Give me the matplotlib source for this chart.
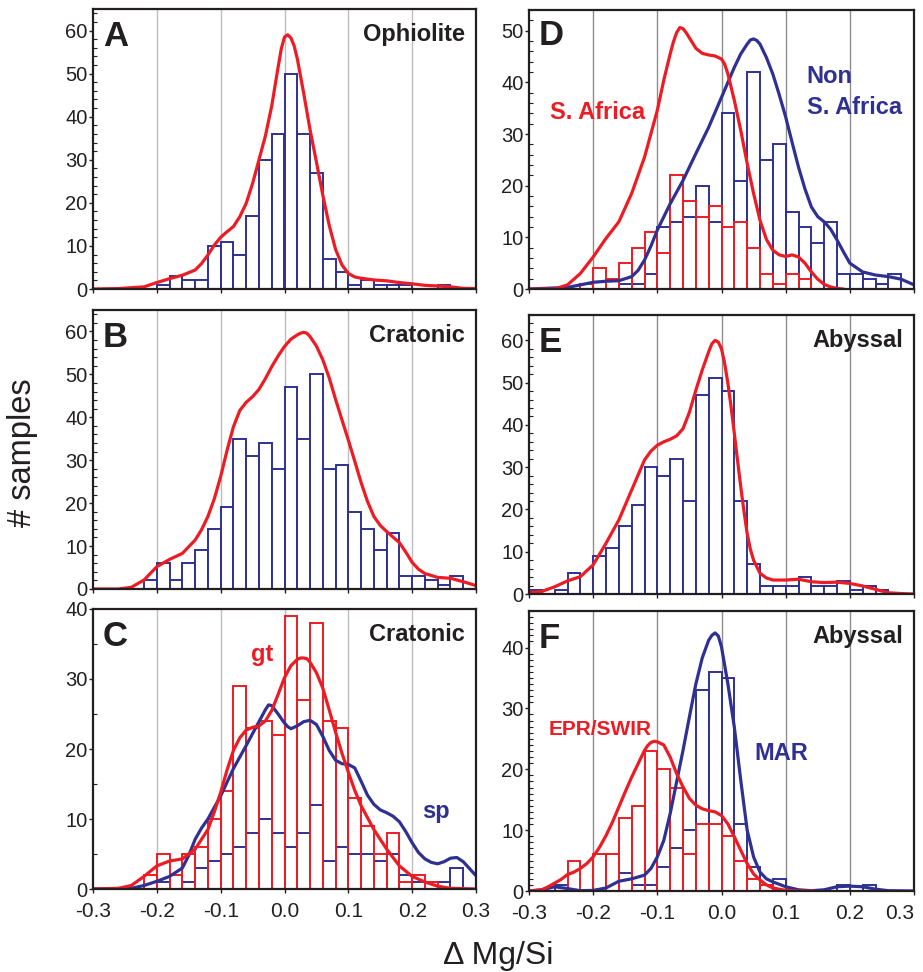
import numpy as np
import matplotlib
matplotlib.use("Agg")
import matplotlib.pyplot as plt
from matplotlib.ticker import MultipleLocator

plt.rcParams['font.family'] = ['Liberation Sans', 'DejaVu Sans']

RED = '#ed1c24'
BLUE = '#2e3192'
INK = '#231f20'
BIN = 0.02

# ---- histogram counts (bin width 0.02, first bin left edge given) ----
a_start = -0.20
a_counts = [1, 3, 2, 2, 10, 11, 8, 17, 30, 36, 50, 36, 27, 7, 4, 1, 2, 1, 1, 1, 0, 0, 1]

b_start = -0.22
b_counts = [2, 6, 2, 6, 9, 14, 19, 35, 31, 34, 28, 47, 35, 50, 28, 29, 18, 14, 9, 13,
            3, 3, 2, 1, 3]

c_start = -0.22
c_gt = [2, 5, 2, 5, 6, 10, 14, 29, 23, 24, 22, 39, 27, 38, 24, 23, 13, 9, 5, 8, 1, 2, 1, 0, 0]
c_sp = [0, 1, 0, 1, 3, 4, 5, 6, 8, 10, 8, 6, 8, 12, 4, 6, 5, 5, 4, 5, 2, 1, 1, 1, 3]

d_start = -0.22
d_safrica = [1, 4, 2, 5, 8, 11, 7, 22, 17, 14, 16, 12, 13, 8, 3, 1, 3, 2, 0, 0, 0, 0, 0, 0, 0]
d_non = [0, 0, 0, 1, 1, 3, 12, 13, 14, 20, 13, 34, 21, 42, 25, 28, 15, 12, 9, 13, 3, 3, 2, 1, 3]

e_start = -0.30
e_counts = [1, 0, 1, 5, 0, 9, 11, 16, 21, 30, 28, 32, 22, 47, 51, 48, 22, 7, 2, 2, 2, 4,
            2, 2, 3, 1, 2, 1]

f_start = -0.26
f_epr = [0, 5, 0, 6, 6, 12, 14, 23, 20, 17, 6, 11, 11, 9, 5, 2, 1, 0, 0, 0, 0, 0, 0, 0, 0]
f_mar = [1, 0, 0, 0, 0, 3, 1, 1, 4, 7, 10, 33, 36, 35, 11, 4, 1, 2, 0, 0, 0, 0, 1, 0, 1]

# ---- density curves ----
a_cx = [-0.30, -0.26, -0.22, -0.20, -0.18, -0.16, -0.14, -0.13, -0.12, -0.11, -0.10, -0.09,
        -0.08, -0.07, -0.06, -0.05, -0.04, -0.03, -0.02, -0.01, -0.005, 0.00, 0.005, 0.01,
        0.015, 0.02, 0.03, 0.04, 0.05, 0.06, 0.07, 0.08, 0.09, 0.10, 0.11, 0.12, 0.14,
        0.16, 0.18, 0.20, 0.22, 0.24, 0.26, 0.28, 0.30]
a_cy = [0, 0.1, 0.5, 1.5, 2.4, 3.2, 4.4, 5.9, 7.9, 10.2, 12, 13.3,
        14.5, 16.8, 19.9, 24.5, 30, 35.5, 42.5, 51.5, 55.8, 58.5, 59, 58.3,
        56.5, 53.5, 45.5, 37, 29.5, 21.8, 14.8, 9.2, 5.6, 3.6, 2.8, 2.5, 2.1,
        1.9, 1.5, 1.2, 0.85, 0.7, 0.5, 0.15, 0.1]

b_cx = [-0.30, -0.26, -0.24, -0.22, -0.20, -0.18, -0.16, -0.14, -0.13, -0.12, -0.11, -0.10,
        -0.09, -0.08, -0.07, -0.06, -0.05, -0.04, -0.03, -0.02, -0.01, 0.00, 0.01, 0.02,
        0.025, 0.03, 0.035, 0.04, 0.05, 0.06, 0.07, 0.08, 0.09, 0.10, 0.11, 0.12, 0.13,
        0.14, 0.15, 0.16, 0.17, 0.18, 0.19, 0.20, 0.21, 0.22, 0.24, 0.26, 0.28, 0.30]
b_cy = [0, 0, 0.4, 2.1, 5.2, 6.9, 8.3, 11.4, 13.8, 16.9, 21, 26.2,
        32.3, 37.8, 41.6, 43.5, 44.8, 46.5, 49, 51.8, 54.3, 56.5, 58.2, 59.2,
        59.6, 59.8, 59.6, 58.8, 56.6, 53.4, 49.2, 44.2, 39.4, 34.7, 29.8, 24.8, 20.4,
        16.9, 14.8, 13.4, 12.1, 10.8, 8.6, 6.2, 4.6, 3.6, 2.7, 2.5, 1.7, 0.8]

c_gt_x = [-0.30, -0.26, -0.24, -0.22, -0.20, -0.18, -0.16, -0.14, -0.12, -0.11, -0.10, -0.09,
          -0.08, -0.07, -0.06, -0.05, -0.04, -0.03, -0.02, -0.01, 0.00, 0.01, 0.02, 0.025,
          0.03, 0.035, 0.04, 0.05, 0.06, 0.07, 0.08, 0.09, 0.10, 0.11, 0.12, 0.14, 0.16,
          0.18, 0.20, 0.22, 0.24, 0.26, 0.30]
c_gt_y = [0, 0.1, 0.5, 1.8, 3.3, 4.0, 4.3, 5.7, 8.5, 11, 13.8, 17,
          19.8, 21.6, 22.7, 23.1, 23.3, 24, 25.5, 27.8, 30.2, 31.9, 32.8, 33,
          33, 32.9, 32.4, 30.9, 28.7, 25.6, 22.4, 19.4, 16.7, 14.1, 11.9, 8.5, 5.7,
          3.3, 1.8, 1.0, 0.4, 0.1, 0]
c_sp_x = [-0.30, -0.24, -0.22, -0.20, -0.18, -0.16, -0.15, -0.14, -0.13, -0.12, -0.10, -0.08,
          -0.06, -0.04, -0.03, -0.025, -0.02, -0.01, 0.00, 0.005, 0.01, 0.02, 0.03, 0.04,
          0.05, 0.06, 0.07, 0.08, 0.09, 0.10, 0.11, 0.12, 0.13, 0.14, 0.15, 0.16, 0.17,
          0.18, 0.19, 0.20, 0.21, 0.22, 0.23, 0.24, 0.25, 0.26, 0.27, 0.28, 0.29, 0.30]
c_sp_y = [0, 0.1, 0.5, 1.1, 1.8, 3.0, 4.8, 7.1, 8.7, 10, 13.3, 17.2,
          20.5, 23.9, 25.6, 26.3, 26.2, 25, 23.7, 23.2, 22.9, 23.3, 23.9, 24.1,
          23.5, 21.8, 19.8, 18.4, 17.9, 17.8, 17.3, 15.4, 13.4, 12.1, 11.3, 10.9, 10.4,
          9.6, 8.2, 6.6, 5.2, 4.3, 3.8, 3.6, 3.9, 4.4, 4.5, 3.9, 2.9, 1.9]

d_sa_x = [-0.30, -0.26, -0.24, -0.22, -0.20, -0.18, -0.16, -0.14, -0.12, -0.10, -0.09, -0.08,
          -0.075, -0.07, -0.065, -0.06, -0.055, -0.05, -0.04, -0.03, -0.02, -0.01, 0.00,
          0.005, 0.01, 0.02, 0.03, 0.04, 0.05, 0.06, 0.07, 0.08, 0.09, 0.10, 0.11, 0.12,
          0.13, 0.14, 0.15, 0.16, 0.17, 0.18, 0.19]
d_sa_y = [0, 0, 0.8, 3, 6.2, 9.8, 13, 18.5, 25.5, 34.6, 40.4, 45.5,
          47.8, 49.6, 50.6, 50.4, 49.6, 48.6, 46.6, 45.6, 45.3, 45.1, 44.5,
          43.5, 41.6, 36.5, 30.7, 24.3, 18.5, 13.3, 9.6, 7.5, 6.6, 6.3, 6.6, 6.2,
          5, 3.3, 1.9, 0.9, 0.4, 0.1, 0]
d_non_x = [-0.30, -0.24, -0.22, -0.20, -0.18, -0.16, -0.14, -0.13, -0.12, -0.11, -0.10,
           -0.08, -0.06, -0.04, -0.02, 0.00, 0.02, 0.03, 0.04, 0.045, 0.05, 0.055, 0.06,
           0.07, 0.08, 0.09, 0.10, 0.11, 0.12, 0.13, 0.14, 0.15, 0.16, 0.17, 0.18, 0.19,
           0.20, 0.22, 0.24, 0.26, 0.28, 0.30]
d_non_y = [0, 0.3, 0.8, 1.3, 1.5, 1.6, 2.4, 3.6, 5.6, 8.3, 11.4,
           16.5, 21, 26.2, 31.3, 37.1, 42.9, 45.5, 47.4, 48.2, 48.4, 48.1, 47.4,
           44.8, 41.6, 37.6, 33.3, 28.4, 23.6, 19.4, 15.9, 14, 13, 11.6, 9.5, 7.2,
           5, 3.3, 2.7, 2.4, 1.9, 0.8]

e_cx = [-0.30, -0.28, -0.26, -0.24, -0.22, -0.20, -0.18, -0.16, -0.14, -0.12, -0.11, -0.10,
        -0.09, -0.08, -0.07, -0.06, -0.05, -0.04, -0.03, -0.02, -0.015, -0.01, -0.005,
        0.00, 0.005, 0.01, 0.015, 0.02, 0.025, 0.03, 0.035, 0.04, 0.045, 0.05, 0.06, 0.07,
        0.08, 0.10, 0.12, 0.14, 0.16, 0.18, 0.20, 0.22, 0.24, 0.26, 0.28, 0.30]
e_cy = [0.3, 0.6, 1.7, 3.1, 4.1, 6.9, 12, 17.5, 24.6, 31.7, 33.8, 35.2,
        36, 36.6, 37.4, 39.1, 43, 48.2, 53, 57.3, 59.2, 60, 59.6,
        58, 54.5, 49.8, 44.2, 38, 31.6, 25.4, 19.6, 14.3, 10.6, 8, 4.9, 3.8,
        3.3, 3.3, 3.5, 2.9, 2.7, 2.8, 2.5, 1.9, 1.1, 0.3, 0.1, 0]

f_epr_x = [-0.30, -0.28, -0.27, -0.26, -0.25, -0.24, -0.23, -0.22, -0.21, -0.20, -0.19, -0.18,
           -0.17, -0.16, -0.15, -0.14, -0.13, -0.12, -0.115, -0.11, -0.105, -0.10, -0.09,
           -0.08, -0.07, -0.06, -0.05, -0.04, -0.03, -0.02, -0.01, 0.00, 0.01, 0.02, 0.03,
           0.04, 0.05, 0.06, 0.07, 0.08, 0.10, 0.12, 0.145]
f_epr_y = [0, 0.2, 0.7, 1.3, 1.9, 2.7, 3.1, 3.7, 4.5, 5.6, 7.2, 9.1,
           11.3, 13.8, 16.3, 18.7, 20.9, 23.1, 23.9, 24.4, 24.6, 24.5, 24,
           22, 19.3, 17.1, 15.2, 14.1, 13.5, 13.2, 13, 12.4, 11, 8.9, 6.7,
           4.5, 2.8, 1.8, 1.0, 0.5, 0.1, 0, 0]
f_mar_x = [-0.30, -0.28, -0.26, -0.24, -0.22, -0.20, -0.18, -0.16, -0.14, -0.12, -0.11, -0.10,
           -0.09, -0.08, -0.07, -0.06, -0.05, -0.04, -0.03, -0.02, -0.015, -0.01, -0.005,
           0.00, 0.01, 0.02, 0.03, 0.04, 0.05, 0.06, 0.07, 0.08, 0.10, 0.12, 0.14, 0.16,
           0.18, 0.20, 0.22, 0.24, 0.26, 0.30]
f_mar_y = [0, 0.2, 0.7, 0.4, 0.05, 0.1, 0.5, 1.6, 2.0, 2.6, 3.7, 5.6,
           8.3, 12.7, 17.9, 23.1, 28.6, 34, 38.3, 41.2, 42, 42.4, 41.9,
           40.1, 34, 26.9, 18.2, 10, 5.6, 3.1, 2, 1.5, 0.7, 0.2, 0.05, 0.2,
           0.7, 0.8, 0.7, 0.3, 0.05, 0]


def edges(start, counts):
    return start + BIN * np.arange(len(counts))


def bars(ax, start, counts, color, filled):
    ax.bar(edges(start, counts), counts, width=BIN, align='edge',
           facecolor='white' if filled else 'none', edgecolor=color,
           linewidth=1.4, zorder=2 if filled else 3)


def curve(ax, xs, ys, color):
    ax.plot(xs, ys, color=color, lw=2.3, zorder=4,
            solid_joinstyle='round', solid_capstyle='round')


def setup(ax, ymax, minor, grid_color, bottom):
    ax.set_xlim(-0.3, 0.3)
    ax.set_ylim(0, ymax)
    ax.set_xticks(np.round(np.arange(-0.3, 0.31, 0.1), 1))
    ax.yaxis.set_major_locator(MultipleLocator(10))
    ax.yaxis.set_minor_locator(MultipleLocator(minor))
    for v in [-0.2, -0.1, 0.0, 0.1, 0.2]:
        ax.axvline(v, color=grid_color, lw=1.0, zorder=0)
    for s in ax.spines.values():
        s.set_linewidth(1.6)
        s.set_color(INK)
        s.set_zorder(5)
    ax.tick_params(axis='y', which='major', direction='out', length=3, width=1,
                   pad=1, labelsize=14.5, colors=INK)
    ax.tick_params(axis='y', which='minor', direction='in', length=3, width=0.8,
                   colors=INK)
    ax.tick_params(axis='x', which='major', direction='out', length=3, width=1,
                   pad=6, labelsize=15, colors=INK)
    if bottom:
        ax.set_xticklabels(['-0.3', '-0.2', '-0.1', '0.0', '0.1', '0.2', '0.3'])
    else:
        ax.set_xticklabels([])


def titles(ax, letter, name, lx=0.026, ly=0.868):
    ax.text(lx, ly, letter, transform=ax.transAxes, fontsize=25,
            fontweight='bold', color=INK, ha='left', va='baseline', zorder=6)
    if name:
        ax.text(0.972, 0.885, name, transform=ax.transAxes, fontsize=17,
                fontweight='bold', color=INK, ha='right', va='baseline', zorder=6)


fig = plt.figure(figsize=(9.23, 9.72), dpi=100)
W, H = 923.0, 972.0
axA = fig.add_axes([93 / W, 1 - 289 / H, 383 / W, 280 / H])
axB = fig.add_axes([93 / W, 1 - 589 / H, 383 / W, 279 / H])
axC = fig.add_axes([93 / W, 1 - 889 / H, 383 / W, 280 / H])
axD = fig.add_axes([529 / W, 1 - 289 / H, 385 / W, 279 / H])
axE = fig.add_axes([529 / W, 1 - 594 / H, 385 / W, 279 / H])
axF = fig.add_axes([529 / W, 1 - 891 / H, 385 / W, 280 / H])

light = '#bdbdbd'
dark = '#8e8e8e'

# A
setup(axA, 65, 2, light, False)
bars(axA, a_start, a_counts, BLUE, True)
curve(axA, a_cx, a_cy, RED)
titles(axA, 'A', 'Ophiolite')

# B
setup(axB, 65, 2, light, False)
bars(axB, b_start, b_counts, BLUE, True)
curve(axB, b_cx, b_cy, RED)
titles(axB, 'B', 'Cratonic')

# C
setup(axC, 40, 5, light, True)
bars(axC, c_start, c_sp, BLUE, True)
bars(axC, c_start, c_gt, RED, False)
curve(axC, c_sp_x, c_sp_y, BLUE)
curve(axC, c_gt_x, c_gt_y, RED)
titles(axC, 'C', 'Cratonic')
axC.text(-0.052, 32.5, 'gt', color=RED, fontsize=17, fontweight='bold', va='baseline')
axC.text(0.216, 10.2, 'sp', color=BLUE, fontsize=17, fontweight='bold', va='baseline')

# D
setup(axD, 54, 2, dark, False)
bars(axD, d_start, d_non, BLUE, True)
bars(axD, d_start, d_safrica, RED, False)
curve(axD, d_non_x, d_non_y, BLUE)
curve(axD, d_sa_x, d_sa_y, RED)
titles(axD, 'D', None, lx=0.024, ly=0.875)
axD.text(-0.268, 33, 'S. Africa', color=RED, fontsize=17, fontweight='bold', va='baseline')
axD.text(0.133, 39.8, 'Non', color=BLUE, fontsize=17, fontweight='bold', va='baseline')
axD.text(0.133, 33.9, 'S. Africa', color=BLUE, fontsize=17, fontweight='bold', va='baseline')

# E
setup(axE, 66, 2, dark, False)
bars(axE, e_start, e_counts, BLUE, True)
curve(axE, e_cx, e_cy, RED)
titles(axE, 'E', 'Abyssal', lx=0.024)

# F
setup(axF, 46, 1, dark, True)
bars(axF, f_start, f_mar, BLUE, True)
bars(axF, f_start, f_epr, RED, False)
curve(axF, f_mar_x, f_mar_y, BLUE)
curve(axF, f_epr_x, f_epr_y, RED)
titles(axF, 'F', 'Abyssal', lx=0.024)
axF.text(-0.269, 25.6, 'EPR/SWIR', color=RED, fontsize=15, fontweight='bold', va='baseline')
axF.text(0.052, 21.6, 'MAR', color=BLUE, fontsize=17, fontweight='bold', va='baseline')
# keep the last tick label inside the canvas
axF.get_xticklabels()[-1].set_horizontalalignment('right')
axF.get_xticklabels()[-1].set_x(0.306)

fig.text(0.024, 0.534, '# samples', rotation=90, fontsize=23.5, color=INK,
         ha='center', va='center')
fig.text(0.54, 0.008, '\u0394 Mg/Si', fontsize=23, color=INK, ha='center', va='baseline')

fig.savefig('out.png', dpi=100)
